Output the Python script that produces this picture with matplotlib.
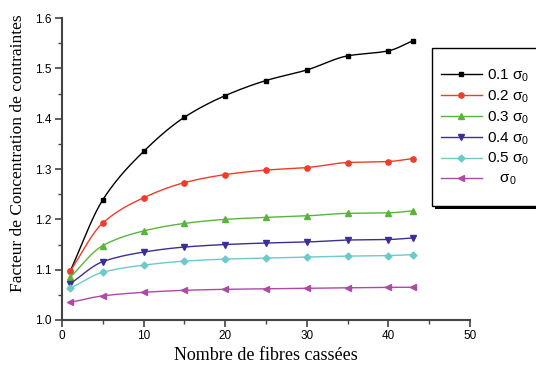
import matplotlib
matplotlib.use('Agg')
import matplotlib.pyplot as plt
from matplotlib.patches import Rectangle
from matplotlib.ticker import MultipleLocator
import numpy as np

plt.rcParams['mathtext.fontset'] = 'custom'
plt.rcParams['mathtext.rm'] = 'Liberation Sans'
plt.rcParams['mathtext.it'] = 'Liberation Sans'

# Nombre de fibres cassées
fibres = [1, 5, 10, 15, 20, 25, 30, 35, 40, 43]

# Facteur de concentration pour chaque niveau de contrainte
s01 = [1.097, 1.239, 1.335, 1.403, 1.446, 1.476, 1.497, 1.525, 1.535, 1.555]
s02 = [1.097, 1.193, 1.243, 1.273, 1.289, 1.298, 1.303, 1.313, 1.315, 1.321]
s03 = [1.085, 1.148, 1.177, 1.192, 1.200, 1.204, 1.207, 1.212, 1.213, 1.217]
s04 = [1.072, 1.116, 1.135, 1.145, 1.150, 1.153, 1.155, 1.159, 1.160, 1.163]
s05 = [1.063, 1.095, 1.109, 1.117, 1.121, 1.123, 1.125, 1.127, 1.128, 1.130]
s10 = [1.035, 1.048, 1.055, 1.059, 1.061, 1.062, 1.063, 1.064, 1.065, 1.065]

labels = ['0.1 σ$_0$', '0.2 σ$_0$', '0.3 σ$_0$',
          '0.4 σ$_0$', '0.5 σ$_0$', '   σ$_0$']
series = [s01, s02, s03, s04, s05, s10]
couleurs = ['#000000', '#f03c28', '#5ab43c', '#3a2e98', '#6ccaca', '#b048a8']
marqueurs = ['s', 'o', '^', 'v', 'D', '<']
tailles = [3.5, 3.8, 4.2, 4.2, 3.5, 4.2]


def courbe_lisse(x, y, n=200):
    # interpolation cubique monotone (pchip) pour le trace seulement
    x = np.asarray(x, float)
    y = np.asarray(y, float)
    h = np.diff(x)
    d = np.diff(y) / h
    m = np.zeros_like(y)
    for k in range(1, len(x) - 1):
        if d[k - 1] * d[k] > 0:
            w1 = 2 * h[k] + h[k - 1]
            w2 = h[k] + 2 * h[k - 1]
            m[k] = (w1 + w2) / (w1 / d[k - 1] + w2 / d[k])
    m[0] = d[0]
    m[-1] = d[-1]
    xs = np.linspace(x[0], x[-1], n)
    idx = np.clip(np.searchsorted(x, xs) - 1, 0, len(x) - 2)
    t = (xs - x[idx]) / h[idx]
    h00 = 2 * t**3 - 3 * t**2 + 1
    h10 = t**3 - 2 * t**2 + t
    h01 = -2 * t**3 + 3 * t**2
    h11 = t**3 - t**2
    ys = h00 * y[idx] + h10 * h[idx] * m[idx] + h01 * y[idx + 1] + h11 * h[idx] * m[idx + 1]
    return xs, ys


fig = plt.figure(figsize=(5.36, 3.65), dpi=100)
ax = fig.add_axes([0.1157, 0.1233, 0.7612, 0.827])

for y, lab, c, mk, ms in zip(series, labels, couleurs, marqueurs, tailles):
    xs, ys = courbe_lisse(fibres, y)
    ax.plot(xs, ys, color=c, lw=1.0)
    ax.plot(fibres, y, linestyle='none', marker=mk, color=c, ms=ms)
    ax.plot([], [], color=c, lw=1.0, marker=mk, ms=ms, label=lab)

ax.set_xlim(0, 50)
ax.set_ylim(1.0, 1.6)
ax.xaxis.set_major_locator(MultipleLocator(10))
ax.xaxis.set_minor_locator(MultipleLocator(5))
ax.yaxis.set_major_locator(MultipleLocator(0.1))
ax.yaxis.set_minor_locator(MultipleLocator(0.05))
ax.yaxis.set_major_formatter(plt.FuncFormatter(lambda v, p: '%.1f' % v))

for s in ['top', 'right']:
    ax.spines[s].set_visible(False)
for s in ['left', 'bottom']:
    ax.spines[s].set_color('#444444')
    ax.spines[s].set_linewidth(1.5)

ax.tick_params(which='major', direction='out', length=5, width=1.2, color='#444444',
               labelsize=8.5, labelfontfamily='Liberation Sans', pad=2.5)
ax.tick_params(which='minor', direction='out', length=3, width=1.0, color='#444444')

ax.set_xlabel('Nombre de fibres cassées', family='Liberation Serif', fontsize=13, labelpad=3)
ax.set_ylabel('Facteur de Concentration de contraintes', family='Liberation Serif',
              fontsize=12.5)
ax.yaxis.set_label_coords(-0.088, 0.552)

# cadre de la légende avec ombre noire (style Origin)
fig.patches.append(Rectangle((0.812, 0.427), 0.2, 0.433, transform=fig.transFigure,
                             facecolor='black', edgecolor='none', zorder=1))
fig.patches.append(Rectangle((0.806, 0.4356), 0.2, 0.4329, transform=fig.transFigure,
                             facecolor='white', edgecolor='black', lw=1.0, zorder=2))

leg = fig.legend(loc='upper left', bbox_to_anchor=(0.822, 0.816), frameon=False,
                 borderaxespad=0, borderpad=0,
                 prop={'family': 'Liberation Sans', 'size': 11},
                 handlelength=2.7, labelspacing=0.3, handletextpad=0.35)
leg.set_zorder(3)

fig.savefig('out.png', dpi=100)
